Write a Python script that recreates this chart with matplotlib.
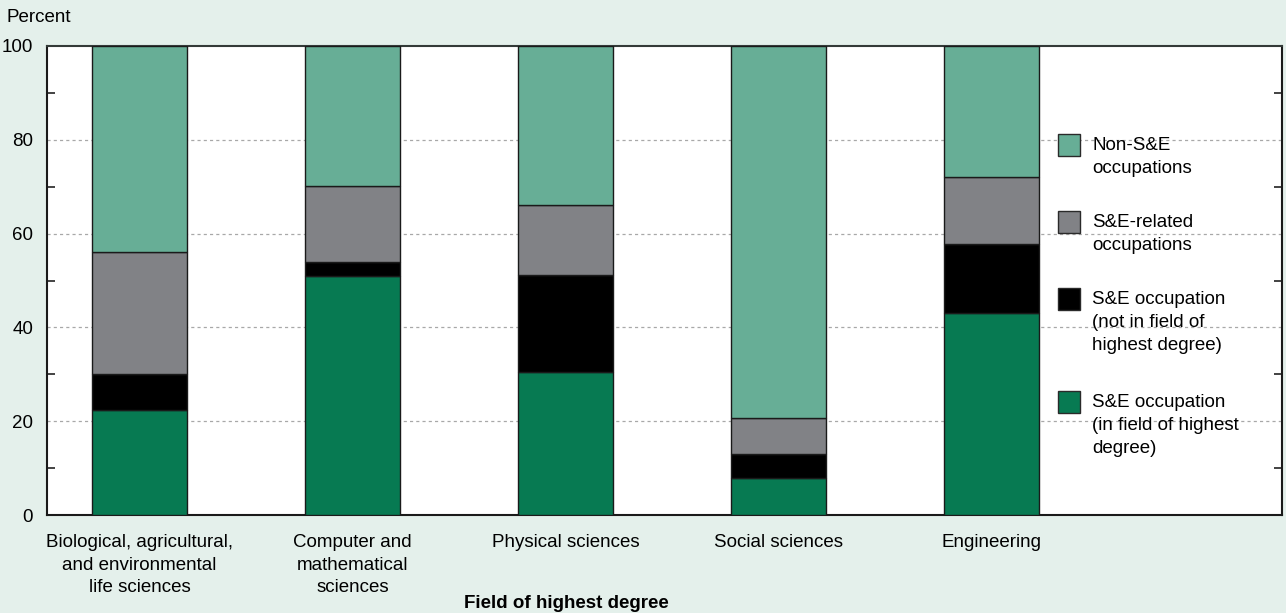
import matplotlib
matplotlib.use("Agg")
import matplotlib.pyplot as plt
from matplotlib.patches import Rectangle
import numpy as np

plt.rcParams['font.family'] = ['Liberation Sans', 'DejaVu Sans']

fields = [
    "Biological, agricultural,\nand environmental\nlife sciences",
    "Computer and\nmathematical\nsciences",
    "Physical sciences",
    "Social sciences",
    "Engineering",
]

# Shares of degree holders by occupation type (percent)
in_field = [22.3, 50.9, 30.5, 7.9, 43.0]
not_in_field = [7.8, 3.1, 20.6, 5.2, 14.8]
se_related = [25.9, 16.1, 14.9, 7.5, 14.2]
non_se = [44.0, 29.9, 34.0, 79.4, 28.0]

series = [
    ("S&E occupation\n(in field of highest\ndegree)", in_field, "#077a52"),
    ("S&E occupation\n(not in field of\nhighest degree)", not_in_field, "#000000"),
    ("S&E-related\noccupations", se_related, "#818286"),
    ("Non-S&E\noccupations", non_se, "#67ae96"),
]

yticks = [0, 20, 40, 60, 80, 100]
minor_yticks = [10, 30, 50, 70, 90]

FS = 13.5
bg = "#e4f0eb"
fig = plt.figure(figsize=(12.86, 6.13), dpi=100, facecolor=bg)
ax = fig.add_axes([47 / 1286, 98 / 613, 1235 / 1286, 469 / 613])
ax.set_facecolor("white")

x = np.arange(len(fields))
bottom = np.zeros(len(fields))
for label, vals, color in series:
    vals = np.array(vals)
    ax.bar(x, vals, width=0.446, bottom=bottom, color=color,
           edgecolor="#1a1a1a", linewidth=1.0, zorder=3)
    bottom += vals

ax.set_xlim(-0.434, 5.364)
ax.set_ylim(0, 100)

ax.set_yticks(yticks)
ax.set_yticklabels([str(v) for v in yticks], fontsize=FS)
ax.set_yticks(minor_yticks, minor=True)
ax.tick_params(axis='y', which='major', length=0, pad=10)
ax.tick_params(axis='y', which='minor', direction='in', length=6,
               width=1.2, left=True, right=True, color="#222222")
for v in yticks[1:-1]:
    ax.axhline(v, color="#a8a8a8", linestyle=(0, (2.5, 2.5)),
               linewidth=0.9, zorder=1)

ax.set_xticks(x)
ax.set_xticklabels(fields, fontsize=FS, linespacing=1.4)
ax.tick_params(axis='x', length=0, pad=14)

for side in ["left", "right", "top", "bottom"]:
    ax.spines[side].set_linewidth(1.5)
    ax.spines[side].set_color("#1a1a1a")
ax.spines["top"].set_color("#333a38")

fig.text(7 / 1286, 1 - 9 / 613, "Percent", fontsize=FS, va="top", ha="left")
fig.text(566 / 1286, 1 - 595 / 613, "Field of highest degree", fontsize=FS,
         fontweight="bold", va="top", ha="center")

# Legend drawn in figure pixels, top entry first
legend_tops = [134, 211, 288, 391]
for (label, vals, color), top in zip(reversed(series), legend_tops):
    fig.patches.append(Rectangle((1058 / 1286, 1 - (top + 22) / 613),
                                 22 / 1286, 22 / 613,
                                 transform=fig.transFigure,
                                 facecolor=color, edgecolor="#2a2a2a",
                                 linewidth=1.0))
    fig.text(1092 / 1286, 1 - (top + 3) / 613, label, fontsize=FS,
             va="top", ha="left", linespacing=1.45)

fig.savefig("out.png", dpi=100, facecolor=bg)
